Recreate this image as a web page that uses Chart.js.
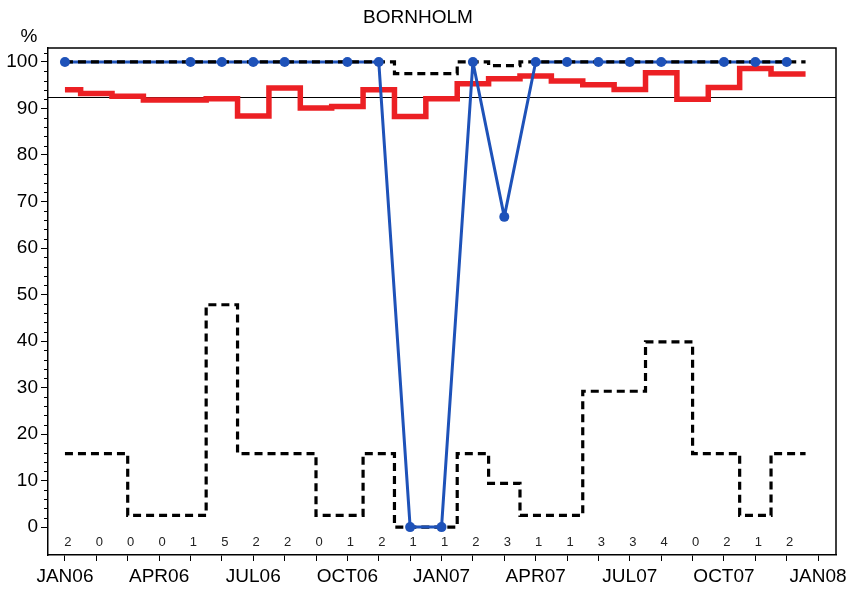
<!DOCTYPE html>
<html>
<head>
<meta charset="utf-8">
<script src="https://cdn.jsdelivr.net/npm/chart.js@4"></script>
<style>
  html, body { margin: 0; padding: 0; background: #fff; }
  #chartContainer { width: 853px; height: 594px; position: relative; }
</style>
</head>
<body>
<div id="chartContainer"><canvas id="myChart"></canvas></div>
<script>
// Monatsindex 0 = JAN06
var months = [0,1,2,3,4,5,6,7,8,9,10,11,12,13,14,15,16,17,18,19,20,21,22,23];
var tickLabels = ['JAN06','APR06','JUL06','OCT06','JAN07','APR07','JUL07','OCT07','JAN08'];
var counts = [2,0,0,0,1,5,2,2,0,1,2,1,1,2,3,1,1,3,3,4,0,2,1,2];

var bluePct  = [100,null,null,null,100,100,100,100,null,100,100,0,0,100,66.7,100,100,100,100,100,null,100,100,100];
var lowerCI  = [15.8,null,null,null,2.5,47.8,15.8,15.8,null,2.5,15.8,0,0,15.8,9.4,2.5,2.5,29.2,29.2,39.8,null,15.8,2.5,15.8];
var upperCI  = [100,null,null,null,100,100,100,100,null,100,100,97.5,97.5,100,99.2,100,100,100,100,100,null,100,100,100];
var redPct   = [94.0,93.2,92.6,91.8,91.8,92.1,88.4,94.4,90.1,90.4,94.0,88.3,92.1,95.3,96.4,97.0,95.9,95.1,94.1,97.7,92.0,94.5,98.6,97.4];

var refLevel = 92.5;     // horizontale Referenzlinie
var periodEnd = 23.6;    // Treppenlinien laufen bis hier
var countLevel = -3.4;   // Höhe der Anzahlen unten

var fontFam = "'Liberation Sans', Arial, Helvetica, sans-serif";

function toPoints(values, extend) {
    var pts = months.map(function (m, i) { return { x: m, y: values[i] }; });
    if (extend) {
        var last = values[values.length - 1];
        pts.push({ x: periodEnd, y: last });
    }
    return pts;
}

var blue = 'rgb(30, 82, 185)';

var extras = {
    id: 'extras',
    beforeDatasetsDraw: function (chart) {
        var ctx = chart.ctx, a = chart.chartArea, y = chart.scales.y;
        ctx.save();
        ctx.strokeStyle = '#000';
        ctx.lineWidth = 1;
        var py = Math.round(y.getPixelForValue(refLevel)) + 0.5;
        ctx.beginPath();
        ctx.moveTo(a.left, py);
        ctx.lineTo(a.right, py);
        ctx.stroke();
        ctx.restore();
    },
    afterDraw: function (chart) {
        var ctx = chart.ctx, a = chart.chartArea, x = chart.scales.x, y = chart.scales.y;
        ctx.save();
        // Rahmen oben und rechts
        ctx.strokeStyle = '#000';
        ctx.lineWidth = 1.5;
        ctx.beginPath();
        ctx.moveTo(a.left, a.top);
        ctx.lineTo(a.right, a.top);
        ctx.lineTo(a.right, a.bottom);
        ctx.stroke();
        // kleine Striche auf der y-Achse
        ctx.lineWidth = 1;
        for (var v = 0; v <= 102; v += 2) {
            if (v % 10 === 0) continue;
            var py = Math.round(y.getPixelForValue(v)) + 0.5;
            ctx.beginPath();
            ctx.moveTo(a.left - 4, py);
            ctx.lineTo(a.left, py);
            ctx.stroke();
        }
        // Anzahlen
        ctx.fillStyle = '#222';
        ctx.font = '13px ' + fontFam;
        ctx.textAlign = 'center';
        ctx.textBaseline = 'middle';
        months.forEach(function (m, i) {
            ctx.fillText(String(counts[i]), x.getPixelForValue(m) + 3, y.getPixelForValue(countLevel));
        });
        // Titel
        ctx.fillStyle = '#000';
        ctx.font = '19px ' + fontFam;
        ctx.fillText('BORNHOLM', 418, 18);
        ctx.fillText('%', 29, 37);
        ctx.restore();
    }
};

var ctx = document.getElementById('myChart').getContext('2d');
var myChart = new Chart(ctx, {
    type: 'line',
    data: {
        datasets: [
            {
                label: 'Andel',
                data: toPoints(redPct, true),
                borderColor: 'rgb(236, 32, 36)',
                borderWidth: 5.5,
                stepped: 'middle',
                pointRadius: 0,
                order: 5
            },
            {
                label: 'Nedre',
                data: toPoints(lowerCI, true),
                borderColor: '#000',
                borderWidth: 3.2,
                borderDash: [8, 5],
                stepped: 'middle',
                spanGaps: true,
                pointRadius: 0,
                order: 4
            },
            {
                label: 'Procent',
                data: toPoints(bluePct, false),
                borderColor: blue,
                borderWidth: 3,
                borderJoinStyle: 'round',
                spanGaps: true,
                pointRadius: 0,
                order: 3
            },
            {
                label: 'Øvre',
                data: toPoints(upperCI, true),
                borderColor: '#000',
                borderWidth: 3.2,
                borderDash: [8, 5],
                stepped: 'middle',
                spanGaps: true,
                pointRadius: 0,
                order: 2
            },
            {
                label: 'Punkter',
                data: toPoints(bluePct, false),
                showLine: false,
                pointRadius: 5,
                pointBackgroundColor: blue,
                pointBorderColor: blue,
                pointBorderWidth: 0,
                order: 1
            }
        ]
    },
    options: {
        responsive: true,
        maintainAspectRatio: false,
        animation: false,
        layout: { padding: { top: 48, right: 17, left: 0, bottom: 0 } },
        plugins: {
            legend: { display: false },
            tooltip: { enabled: false }
        },
        scales: {
            x: {
                type: 'linear',
                min: -0.54,
                max: 24.57,
                afterBuildTicks: function (axis) {
                    var t = [];
                    for (var m = 0; m <= 24; m++) t.push({ value: m });
                    axis.ticks = t;
                },
                afterFit: function (axis) { axis.height = 39; },
                ticks: {
                    autoSkip: false,
                    maxRotation: 0,
                    padding: 4,
                    color: '#000',
                    font: { family: fontFam, size: 19 },
                    callback: function (value) {
                        return value % 3 === 0 ? tickLabels[value / 3] : '';
                    }
                },
                grid: {
                    drawOnChartArea: false,
                    drawTicks: true,
                    tickLength: 6,
                    tickColor: '#000',
                    tickWidth: 1
                },
                border: { color: '#000', width: 1.5 }
            },
            y: {
                min: -6,
                max: 103,
                afterBuildTicks: function (axis) {
                    var t = [];
                    for (var v = 0; v <= 100; v += 10) t.push({ value: v });
                    axis.ticks = t;
                },
                afterFit: function (axis) { axis.width = 48; },
                ticks: {
                    padding: 3,
                    color: '#000',
                    font: { family: fontFam, size: 19 }
                },
                grid: {
                    drawOnChartArea: false,
                    drawTicks: true,
                    tickLength: 7,
                    tickColor: '#000',
                    tickWidth: 1
                },
                border: { color: '#000', width: 1.5 }
            }
        }
    },
    plugins: [extras]
});
</script>
</body>
</html>
